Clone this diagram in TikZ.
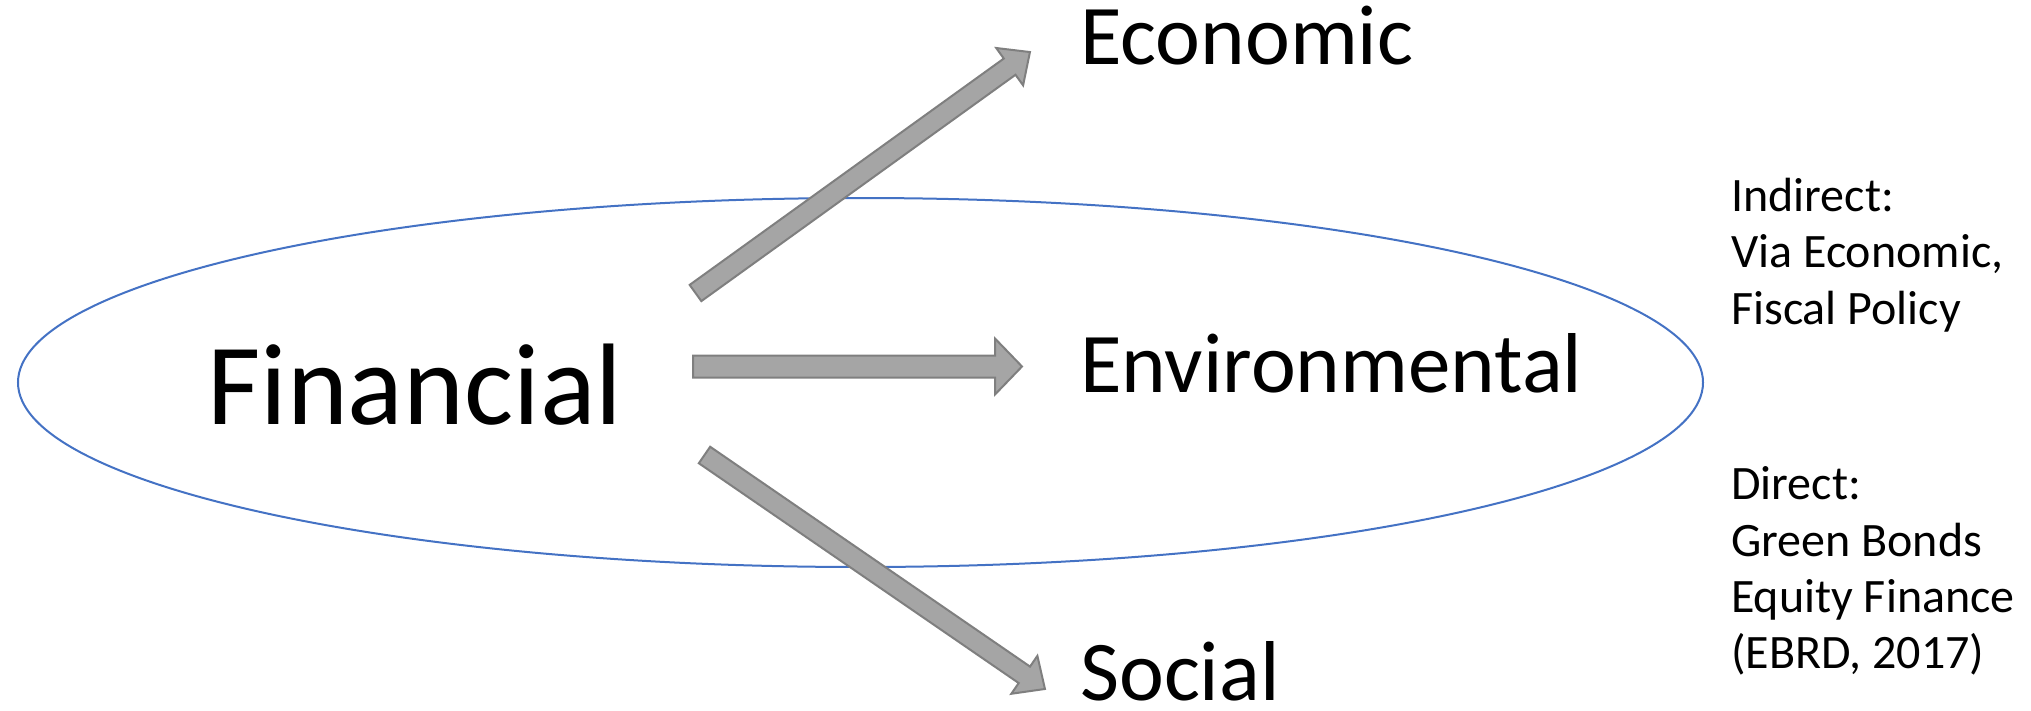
\documentclass[tikz,border=0pt]{standalone}
\usepackage{fontspec}
\setmainfont{Carlito}
\usetikzlibrary{calc,shapes.geometric}
\definecolor{ringblue}{HTML}{4472C4}
\definecolor{arrowfill}{HTML}{A5A5A5}
\definecolor{arrowline}{HTML}{7F7F7F}
\tikzset{
  bigword/.style={anchor=base west, inner sep=0pt, font=\fontsize{116}{130}\selectfont},
  midword/.style={anchor=base west, inner sep=0pt, text depth=0pt, font=\fontsize{85}{98}\selectfont},
  note/.style={anchor=base west, inner sep=0pt, font=\fontsize{48}{56}\selectfont},
  blockarrow/.style={draw=arrowline, fill=arrowfill, line width=2pt, line join=miter},
}
% #1 tail, #2 tip, #3 shaft width, #4 head width, #5 head length
\newcommand{\fatarrow}[5]{%
  \path[blockarrow] let \p1=(#1), \p2=(#2),
    \n1={atan2(\y2-\y1,\x2-\x1)}, \n2={veclen(\x2-\x1,\y2-\y1)} in
    [shift={(\p1)}, rotate=\n1]
    (0pt,-#3/2) -- (\n2-#5,-#3/2) -- (\n2-#5,-#4/2) -- (\n2,0pt)
    -- (\n2-#5,#4/2) -- (\n2-#5,#3/2) -- (0pt,#3/2) -- cycle;}
\begin{document}
\begin{tikzpicture}[x=1pt,y=-1pt]
\useasboundingbox (0,0) rectangle (2031,710);
\node[ellipse, draw=ringblue, line width=2pt, inner sep=0pt,
      minimum width=1685pt, minimum height=369pt] (ring) at (860.5,382.5) {};
\node[bigword] (fin) at (207,424) {Financial};
\node[midword] (eco) at (1080,64) {Economic};
\node[midword] (env) at (1080,392) {Environmental};
\node[midword] (soc) at (1080,700) {Social};
\node[note] (ind1) at (1731,211) {Indirect:};
\node[note] (ind2) at (1731,267) {Via Economic,};
\node[note] (ind3) at (1731,324) {Fiscal Policy};
\node[note] (dir1) at (1731,499) {Direct:};
\node[note] (dir2) at (1731,556) {Green Bonds};
\node[note] (dir3) at (1731,612) {Equity Finance};
\node[note] (dir4) at (1731,668) {(EBRD, 2017)};
\coordinate (ecoTail) at (695.5,293);
\coordinate (ecoTip) at (1030,52);
\coordinate (envTail) at (693,366.5);
\coordinate (envTip) at (1022,366.5);
\coordinate (socTail) at (704.5,455);
\coordinate (socTip) at (1045,689);
\fatarrow{ecoTail}{ecoTip}{20pt}{46pt}{25pt}
\fatarrow{envTail}{envTip}{22pt}{56pt}{27pt}
\fatarrow{socTail}{socTip}{20pt}{46pt}{25pt}
\end{tikzpicture}
\end{document}
